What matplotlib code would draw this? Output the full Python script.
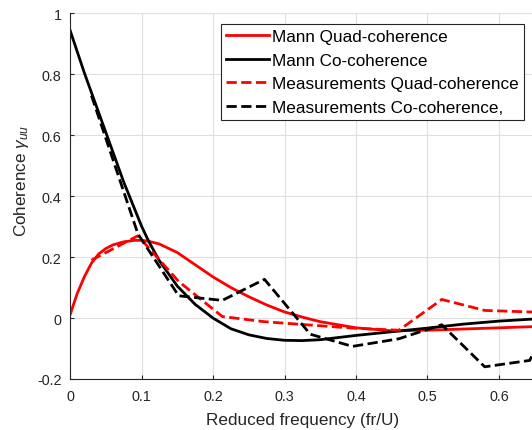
import matplotlib
matplotlib.use("Agg")
import matplotlib.pyplot as plt

plt.rcParams['font.family'] = ['Liberation Sans', 'DejaVu Sans']
plt.rcParams['mathtext.fontset'] = 'custom'
plt.rcParams['mathtext.rm'] = 'Liberation Sans'
plt.rcParams['mathtext.it'] = 'Liberation Sans:italic'

# Mann model curves
mann_x = [0, 0.01, 0.02, 0.03, 0.04, 0.05, 0.06, 0.075, 0.09, 0.1, 0.11, 0.125,
          0.15, 0.175, 0.2, 0.225, 0.25, 0.275, 0.3, 0.325, 0.35, 0.4, 0.45,
          0.5, 0.55, 0.6, 0.65]
mann_quad = [0.01, 0.08, 0.135, 0.18, 0.21, 0.228, 0.24, 0.25, 0.255, 0.255, 0.252, 0.243,
             0.215, 0.175, 0.135, 0.10, 0.07, 0.043, 0.02, 0.003, -0.012, -0.032, -0.042,
             -0.04, -0.036, -0.032, -0.028]
mann_co = [0.945, 0.875, 0.805, 0.74, 0.675, 0.61, 0.545, 0.447, 0.36, 0.302, 0.252, 0.188,
           0.105, 0.045, 0.0, -0.035, -0.055, -0.067, -0.073, -0.074, -0.071, -0.057, -0.045,
           -0.033, -0.02, -0.01, -0.003]

# Measurements
meas_x = [0.03, 0.095, 0.152, 0.213, 0.272, 0.336, 0.395, 0.46, 0.52, 0.58, 0.643, 0.705]
meas_quad = [0.19, 0.27, 0.12, 0.005, -0.012, -0.023, -0.033, -0.04, 0.061, 0.025, 0.02, 0.02]
meas_co = [0.73, 0.276, 0.073, 0.058, 0.127, -0.053, -0.093, -0.068, -0.022, -0.16, -0.139, 0.16]

xticks = [0, 0.1, 0.2, 0.3, 0.4, 0.5, 0.6]
xticklabels = ['0', '0.1', '0.2', '0.3', '0.4', '0.5', '0.6']
yticks = [-0.2, 0, 0.2, 0.4, 0.6, 0.8, 1.0]
yticklabels = ['-0.2', '0', '0.2', '0.4', '0.6', '0.8', '1']

W, H = 532, 431
fig = plt.figure(figsize=(W / 100, H / 100), dpi=100)
left, right, top, bottom = 70, 534.75, 14.3, 380
ax = fig.add_axes([left / W, 1 - bottom / H, (right - left) / W, (bottom - top) / H])

ax.plot(mann_x, mann_quad, color='#ff0000', lw=2, label='Mann Quad-coherence')
ax.plot(mann_x, mann_co, color='black', lw=2, label='Mann Co-coherence')
ax.plot(meas_x, meas_quad, color='#ff0000', lw=2, ls='--', label='Measurements Quad-coherence')
ax.plot(meas_x, meas_co, color='black', lw=2, ls='--', label='Measurements Co-coherence,')

ax.set_xlim(0, 0.65)
ax.set_ylim(-0.2, 1.0)
ax.set_xticks(xticks)
ax.set_xticklabels(xticklabels)
ax.set_yticks(yticks)
ax.set_yticklabels(yticklabels)

ax.grid(True, color='#dfdfdf', lw=0.8)
ax.set_axisbelow(True)
for s in ['top', 'right']:
    ax.spines[s].set_visible(False)
for s in ['left', 'bottom']:
    ax.spines[s].set_color('#262626')
    ax.spines[s].set_linewidth(0.8)
ax.tick_params(direction='in', length=3, width=0.8, color='#262626',
               labelcolor='#262626', labelsize=10.4)
ax.tick_params(axis='y', pad=6)
ax.tick_params(axis='x', pad=7)

ax.set_xlabel('Reduced frequency (fr/U)', fontsize=12.3, color='#262626')
ax.set_ylabel(r'Coherence $\gamma_{uu}$', fontsize=12.3, color='#262626')
ax.xaxis.set_label_coords(0.5, -0.09)
ax.yaxis.set_label_coords(-0.083, 0.545)

leg = ax.legend(loc='upper right', bbox_to_anchor=(524 / W, 1 - 25 / H),
                bbox_transform=fig.transFigure, fontsize=12.3, frameon=True,
                fancybox=False, handlelength=2.5, handletextpad=0.2,
                labelspacing=0.5, borderpad=0.3, borderaxespad=0)
leg.get_frame().set_edgecolor('#262626')
leg.get_frame().set_linewidth(0.8)
leg.get_frame().set_alpha(1)
for t in leg.get_texts():
    t.set_color('black')

fig.savefig('out.png', dpi=100)
